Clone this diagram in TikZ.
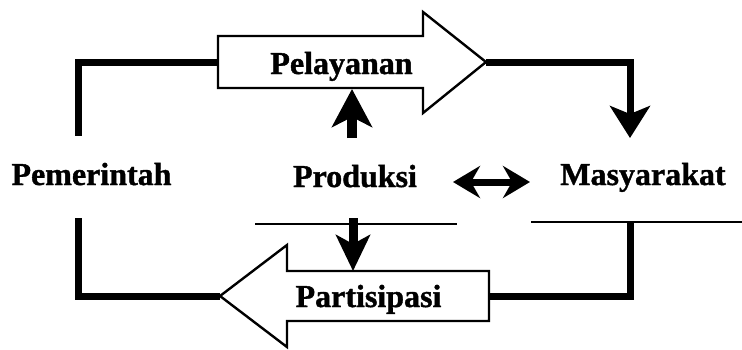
\documentclass[tikz,border=0pt]{standalone}
\usepackage{fontspec}
\setmainfont[BoldFeatures={FakeBold=1.2}]{Liberation Serif}
\usetikzlibrary{arrows.meta}
\begin{document}
\begin{tikzpicture}[x=1pt,y=-1pt,
  lbl/.style={font=\fontsize{32}{32}\selectfont\bfseries, inner sep=0pt, anchor=base},
  blockarrow/.style={draw=black, line width=2.4pt, fill=white, line join=miter},
  link/.style={line width=7pt, line join=miter},
  rule/.style={line width=1.4pt},
  fathead/.style={-{Stealth[length=32pt,width=40pt,inset=8pt]}},
  dblhead/.style={{Stealth[length=27pt,width=32pt,inset=9pt]}-{Stealth[length=27pt,width=32pt,inset=9pt]}}
]
\useasboundingbox (0,0) rectangle (742,349);

% faint horizontal rules
\draw[rule] (255,224) -- (457,224);
\draw[rule] (531,222) -- (742,222);

% anchor points of the connectors
\coordinate (pelL) at (218,62);
\coordinate (pelR) at (486,62);
\coordinate (pelB) at (352,89);
\coordinate (parL) at (220,296);
\coordinate (parR) at (489,296);
\coordinate (parT) at (353,271);
\coordinate (pemTop) at (78,136);
\coordinate (pemBot) at (78,218);
\coordinate (masTop) at (630,138);
\coordinate (masBot) at (630,222);
\coordinate (prodUp) at (352,138);
\coordinate (prodDown) at (353,218);
\coordinate (dblL) at (453,182);
\coordinate (dblR) at (530,182);

% thick loop connectors
\draw[link] (pelL) -| (pemTop);
\draw[link, fathead] (pelR) -| (masTop);
\draw[link] (parR) -| (masBot);
\draw[link] (parL) -| (pemBot);

% block arrows
\draw[blockarrow] (218,36) -- (423,36) -- (423,12) -- (pelR) -- (423,113) -- (423,88) -- (218,88) -- cycle;
\draw[blockarrow] (489,271) -- (287,271) -- (287,245) -- (parL) -- (287,347) -- (287,321) -- (489,321) -- cycle;

% arrows from Produksi
\draw[line width=10pt, -{Stealth[length=38pt,width=40pt,inset=10pt]}] (prodUp) -- (pelB);
\draw[line width=9pt, -{Stealth[length=36pt,width=34pt,inset=9pt]}] (prodDown) -- (parT);
\draw[line width=7pt, dblhead] (dblL) -- (dblR);

% labels
\node[lbl] (pelayanan) at (341.5,74) {Pelayanan};
\node[lbl] (partisipasi) at (368.5,307) {Partisipasi};
\node[lbl] (pemerintah) at (91.5,185) {Pemerintah};
\node[lbl] (produksi) at (355,187) {Produksi};
\node[lbl] (masyarakat) at (643,185) {Masyarakat};
\end{tikzpicture}
\end{document}
